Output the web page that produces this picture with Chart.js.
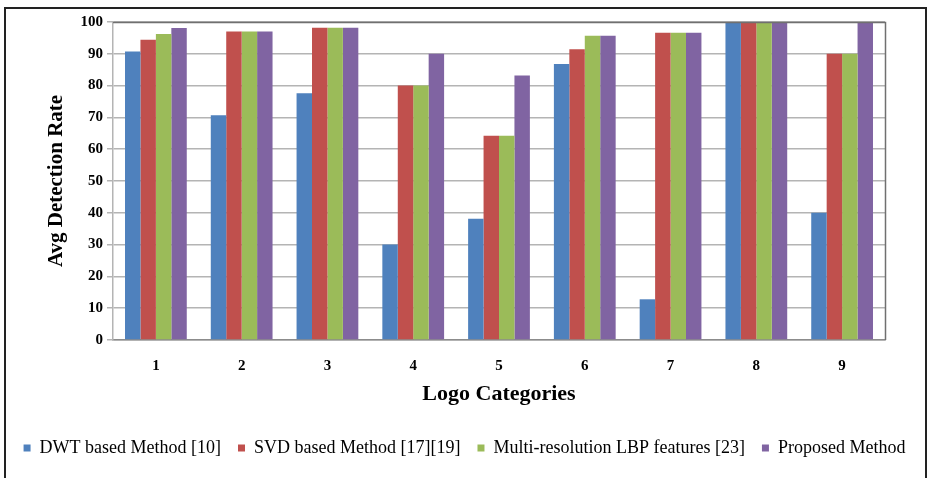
<!DOCTYPE html>
<html>
<head>
<meta charset="utf-8">
<script src="https://cdn.jsdelivr.net/npm/chart.js@4/dist/chart.umd.min.js"></script>
<style>
html,body{margin:0;padding:0;background:#fff;}
#wrap{position:absolute;left:0;top:0;width:929px;height:478px;}
</style>
</head>
<body>
<div id="wrap"><canvas id="c" width="929" height="478"></canvas></div>
<script>
const categories = ["1","2","3","4","5","6","7","8","9"];
const seriesNames = ["DWT based Method [10]","SVD based Method [17][19]","Multi-resolution LBP features [23]","Proposed Method"];
const dwt      = [90.7, 70.7, 77.6, 30.0, 38.1, 86.8, 12.8, 100, 40.0];
const svd      = [94.4, 97.0, 98.2, 80.0, 64.2, 91.4, 96.6, 100, 90.0];
const lbp      = [96.2, 97.0, 98.2, 80.0, 64.2, 95.7, 96.6, 100, 90.0];
const proposed = [98.1, 97.0, 98.2, 90.0, 83.2, 95.7, 96.6, 100, 100];
const yTicks   = [0,10,20,30,40,50,60,70,80,90,100];
const colors   = ["#4F81BD","#C0504D","#9BBB59","#8064A2"];

const serif = "'Liberation Serif','Times New Roman',serif";

const frame = {
  id:'frame',
  beforeDraw(chart){
    const ctx = chart.ctx;
    ctx.save();
    ctx.fillStyle='#fff';
    ctx.fillRect(0,0,chart.width,chart.height);
    ctx.strokeStyle='#222';
    ctx.lineWidth=2;
    ctx.strokeRect(5,8,921,475);
    ctx.restore();
  },
  afterDatasetsDraw(chart){
    const a = chart.chartArea, ctx = chart.ctx;
    ctx.save();
    ctx.strokeStyle='#707070';
    ctx.lineWidth=1.5;
    ctx.beginPath();
    ctx.moveTo(a.left, a.top+0.5);
    ctx.lineTo(a.right+0.5, a.top+0.5);
    ctx.lineTo(a.right+0.5, a.bottom);
    ctx.stroke();
    ctx.restore();
  }
};

const data = {
  labels: categories,
  datasets: [dwt, svd, lbp, proposed].map((d,i)=>({
    label: seriesNames[i],
    data: d,
    yAxisID:'y',
    backgroundColor: colors[i],
    borderWidth: 0,
    barPercentage: 1.0,
    categoryPercentage: 0.72
  }))
};

new Chart(document.getElementById('c'), {
  type:'bar',
  data,
  plugins:[frame],
  options:{
    responsive:false,
    animation:false,
    devicePixelRatio:1,
    layout:{padding:{left:0,right:0,top:22,bottom:11}},
    plugins:{
      tooltip:{enabled:false},
      legend:{
        position:'bottom',
        labels:{
          font:{family:serif,size:18},
          color:'#000',
          boxWidth:7,
          boxHeight:7,
          padding:17,
          usePointStyle:false
        }
      }
    },
    scales:{
      x:{
        grid:{display:false},
        border:{color:'#8c8c8c',width:1.5},
        ticks:{font:{family:serif,size:15,weight:'bold'},color:'#000',padding:9},
        title:{display:true,text:'Logo Categories',font:{family:serif,size:22,weight:'bold'},color:'#000',padding:{top:8,bottom:14}},
        afterFit(s){ s.height = 82; }
      },
      y:{
        min:0,max:100,
        afterBuildTicks(s){ s.ticks = yTicks.map(v=>({value:v})); },
        grid:{color:'#b4b4b4',lineWidth:1.5,drawTicks:true,tickLength:6},
        border:{color:'#b4b4b4',width:1.5},
        ticks:{font:{family:serif,size:15,weight:'bold'},color:'#000',padding:4},
        title:{display:true,text:'Avg Detection Rate',font:{family:serif,size:21,weight:'bold'},color:'#000',padding:{top:44,bottom:6}},
        afterFit(s){ s.width = 113; }
      },
      yr:{
        position:'right',
        min:0,max:100,
        grid:{display:false,drawOnChartArea:false},
        border:{display:false},
        ticks:{display:false},
        afterFit(s){ s.width = 44; }
      }
    }
  }
});
</script>
</body>
</html>
